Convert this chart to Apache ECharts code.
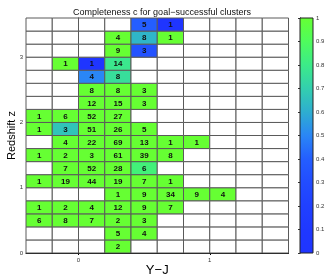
<!DOCTYPE html>
<html><head><meta charset="utf-8">
<script src="https://cdn.jsdelivr.net/npm/echarts@6/dist/echarts.min.js"></script>
<style>html,body{margin:0;padding:0;background:#fff}#c{width:327px;height:279px}</style>
</head><body><div id="c"></div>
<script>
// Bin lower edges
const xBins = [-0.4, -0.2, 0.0, 0.2, 0.4, 0.6, 0.8, 1.0, 1.2, 1.4];
const zBins = [0.0, 0.2, 0.4, 0.6, 0.8, 1.0, 1.2, 1.4, 1.6, 1.8, 2.0, 2.2, 2.4, 2.6, 2.8, 3.0, 3.2, 3.4];
const binW = 0.2, binH = 0.2;
// Cluster counts per cell (rows from z=0 upward), null = empty
const _ = null;
const counts = [
  [_, _, _, 2, _, _, _, _, _, _],
  [_, _, _, 5, 4, _, _, _, _, _],
  [6, 8, 7, 2, 3, _, _, _, _, _],
  [1, 2, 4, 12, 9, 7, _, _, _, _],
  [_, _, _, 1, 9, 34, 9, 4, _, _],
  [1, 19, 44, 19, 7, 1, _, _, _, _],
  [_, 7, 52, 28, 6, _, _, _, _, _],
  [1, 2, 3, 61, 39, 8, _, _, _, _],
  [_, 4, 22, 69, 13, 1, 1, _, _, _],
  [1, 3, 51, 26, 5, _, _, _, _, _],
  [1, 6, 52, 27, _, _, _, _, _, _],
  [_, _, 12, 15, 3, _, _, _, _, _],
  [_, _, 8, 8, 3, _, _, _, _, _],
  [_, _, 4, 8, _, _, _, _, _, _],
  [_, 1, 1, 14, _, _, _, _, _, _],
  [_, _, _, 9, 3, _, _, _, _, _],
  [_, _, _, 4, 8, 1, _, _, _, _],
  [_, _, _, _, 5, 1, _, _, _, _]
];
// Completeness c per cell
const completeness = [
  [_, _, _, 1, _, _, _, _, _, _],
  [_, _, _, 1, 1, _, _, _, _, _],
  [1, 1, 1, 1, 1, _, _, _, _, _],
  [1, 1, 1, 1, 1, 1, _, _, _, _],
  [_, _, _, 1, 1, 1, 1, 1, _, _],
  [1, 1, 1, 1, 1, 1, _, _, _, _],
  [_, 1, 1, 1, 0.833, _, _, _, _, _],
  [1, 1, 1, 1, 1, 1, _, _, _, _],
  [_, 1, 1, 1, 1, 1, 1, _, _, _],
  [1, 0.667, 1, 1, 1, _, _, _, _, _],
  [1, 1, 1, 1, _, _, _, _, _, _],
  [_, _, 1, 1, 1, _, _, _, _, _],
  [_, _, 1, 1, 1, _, _, _, _, _],
  [_, _, 0.5, 0.75, _, _, _, _, _, _],
  [_, 1, 0, 0.786, _, _, _, _, _, _],
  [_, _, _, 1, 0.333, _, _, _, _, _],
  [_, _, _, 1, 0.625, 1, _, _, _, _],
  [_, _, _, _, 0.4, 0, _, _, _, _]
];
const xTicks = [0, 1];
const cmap = ['#1f35ff', '#1f38ff', '#2040ff', '#224cff', '#245eff', '#2a86f5',
              '#2eaed0', '#33cfae', '#3ceb88', '#4ffc5c', '#66ff33'];

const data = [];
zBins.forEach((z, r) => {
  xBins.forEach((x, c) => {
    const n = counts[r][c];
    data.push([x, z, n == null ? 1 : completeness[r][c], n == null ? '-' : n]);
  });
});

const chart = echarts.init(document.getElementById('c'), null, {renderer: 'canvas'});
const FONT = 'Liberation Sans, Arial, Helvetica, sans-serif';
chart.setOption({
  animation: false,
  backgroundColor: '#fff',
  title: {
    text: 'Completeness c for goal\u2212successful clusters',
    left: 157, top: 3, textAlign: 'center',
    textStyle: {fontSize: 9, fontWeight: 'normal', color: '#111', fontFamily: FONT}
  },
  grid: [
    {left: 26, right: 38.5, top: 18, bottom: 26, containLabel: false, outerBoundsMode: 'none'},
    {left: 300, width: 13, top: 18, bottom: 26, containLabel: false, outerBoundsMode: 'none'}
  ],
  visualMap: {
    show: false, type: 'continuous', min: 0, max: 1, dimension: 2, seriesIndex: 0,
    inRange: {color: cmap}
  },
  xAxis: [
    {gridIndex: 0, type: 'value', min: -0.4, max: 1.6, interval: 0.2,
     name: 'Y\u2212J', nameLocation: 'middle', nameGap: 11, nameMoveOverlap: false,
     nameTextStyle: {fontSize: 13, color: '#000', fontFamily: FONT},
     axisLine: {show: true, lineStyle: {color: '#000', width: 1}},
     axisTick: {show: true, length: 2, customValues: xTicks, lineStyle: {color: '#000'}},
     axisLabel: {fontSize: 6, color: '#333', margin: 4, customValues: xTicks, fontFamily: FONT},
     splitLine: {show: false}},
    {gridIndex: 1, type: 'value', min: 0, max: 1, show: false}
  ],
  yAxis: [
    {gridIndex: 0, type: 'value', min: 0, max: 3.6, interval: 1,
     name: 'Redshift z', nameLocation: 'middle', nameGap: 9, nameMoveOverlap: false,
     nameTextStyle: {fontSize: 11, color: '#000', fontFamily: FONT},
     axisLine: {show: true, lineStyle: {color: '#000', width: 1}},
     axisTick: {show: true, length: 2, lineStyle: {color: '#000'}},
     axisLabel: {fontSize: 6, color: '#333', margin: 3, fontFamily: FONT,
       showMaxLabel: false},
     splitLine: {show: false}},
    {gridIndex: 1, type: 'value', min: 0, max: 1, interval: 0.1, position: 'right',
     axisLine: {show: true, lineStyle: {color: '#000', width: 1}},
     axisTick: {show: true, inside: true, length: 2, lineStyle: {color: '#333'}},
     axisLabel: {fontSize: 6, color: '#333', margin: 3, fontFamily: FONT,
       formatter: v => String(Math.round(v * 10) / 10)},
     splitLine: {show: false}}
  ],
  series: [
    {
      type: 'custom', xAxisIndex: 0, yAxisIndex: 0, data: data,
      renderItem: function (params, api) {
        const x = api.value(0), z = api.value(1);
        const n = api.value(3);
        const p0 = api.coord([x, z + binH]);
        const p1 = api.coord([x + binW, z]);
        const empty = (n === '-' || n == null || isNaN(n));
        const fill = empty ? '#fff' : api.visual('color');
        const children = [{
          type: 'rect',
          shape: {x: p0[0], y: p0[1], width: p1[0] - p0[0], height: p1[1] - p0[1]},
          style: {fill: fill, stroke: '#5a5a5a', lineWidth: 1}
        }];
        if (!empty) {
          children.push({
            type: 'text',
            style: {
              text: String(n), x: (p0[0] + p1[0]) / 2, y: (p0[1] + p1[1]) / 2 + 0.5,
              align: 'center', verticalAlign: 'middle',
              fontSize: 8, fontWeight: 'bold', fill: '#111', fontFamily: FONT
            }
          });
        }
        return {type: 'group', children: children};
      },
      z: 1
    },
    {
      type: 'custom', xAxisIndex: 1, yAxisIndex: 1, data: [[0, 0]],
      renderItem: function (params, api) {
        const p0 = api.coord([0, 1]);
        const p1 = api.coord([1, 0]);
        const stops = cmap.map((c, i) => ({offset: i / (cmap.length - 1), color: c}));
        return {
          type: 'rect',
          shape: {x: p0[0], y: p0[1], width: p1[0] - p0[0], height: p1[1] - p0[1]},
          style: {
            fill: {type: 'linear', x: 0, y: 1, x2: 0, y2: 0, colorStops: stops},
            stroke: '#222', lineWidth: 1
          }
        };
      },
      z: 1
    }
  ]
});
</script>
</body></html>
